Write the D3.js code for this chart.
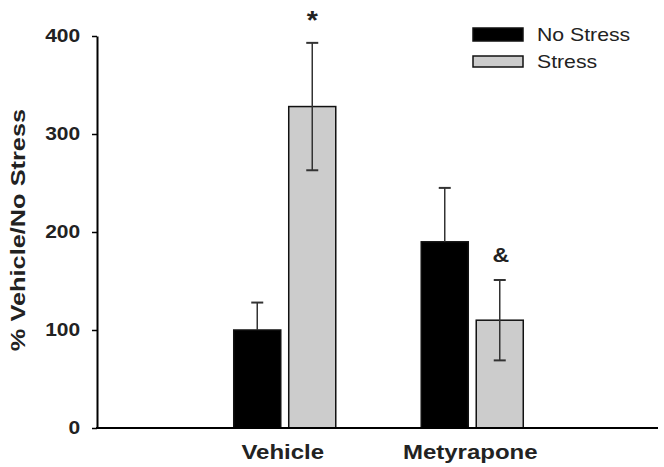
<!DOCTYPE html>
<html>
<head>
<meta charset="utf-8">
<script src="https://cdn.jsdelivr.net/npm/d3@7"></script>
<style>
  body { margin: 0; background: #fff; }
  svg text { font-family: "Liberation Sans", Arial, sans-serif; }
</style>
</head>
<body>
<div id="grafico"></div>
<script>
// datos
var grupos = ["Vehicle", "Metyrapone"];
var series = ["No Stress", "Stress"];
var noStress = [100, 190];
var noStressErr = [28, 55];
var stress = [328, 110];
var stressErr = [65, 41];
var marcas = ["*", "&"];
var yTicks = [0, 100, 200, 300, 400];

var colores = { "No Stress": "#000000", "Stress": "#cccccc" };

var W = 664, H = 467;
var estirar = 1.2; // el texto original sale ensanchado

var svg = d3.select("#grafico").append("svg")
  .attr("width", W)
  .attr("height", H);

// texto ensanchado en horizontal
function texto(x, y, s, ancla, sx) {
  return svg.append("text")
    .attr("transform", "translate(" + x + "," + y + ") scale(" + (sx || estirar) + ",1)")
    .attr("text-anchor", ancla || "start")
    .attr("fill", "#222")
    .text(s);
}

// escalas
var y = d3.scaleLinear().domain([0, 400]).range([428, 36]);

var x0 = d3.scaleBand().domain(grupos).range([191, 566]).padding(0);
var x1 = d3.scaleBand().domain(series).range([0, x0.bandwidth()])
  .paddingInner(0.145).paddingOuter(0.777);

// eje Y
var ejeY = svg.append("g")
  .attr("transform", "translate(97,0)")
  .call(d3.axisLeft(y).tickValues(yTicks).tickSize(5).tickSizeOuter(0));
ejeY.select(".domain").attr("stroke", "#000").attr("stroke-width", 2);
ejeY.selectAll(".tick line").attr("stroke", "#000").attr("stroke-width", 1.5);
ejeY.selectAll(".tick text")
  .attr("x", -14)
  .attr("transform", "scale(" + estirar + ",1)")
  .attr("font-size", "17.5px")
  .attr("font-weight", "bold")
  .attr("fill", "#222")
  .attr("dy", "0.3em");

// título eje Y
svg.append("text")
  .attr("transform", "translate(25,230) rotate(-90) scale(1.3,1)")
  .attr("text-anchor", "middle")
  .attr("font-size", "19.5px")
  .attr("font-weight", "bold")
  .attr("fill", "#222")
  .text("% Vehicle/No Stress");

// datos por barra
var barras = [];
grupos.forEach(function(g, i) {
  barras.push({ grupo: g, serie: "No Stress", valor: noStress[i], err: noStressErr[i], marca: null });
  barras.push({ grupo: g, serie: "Stress", valor: stress[i], err: stressErr[i], marca: marcas[i] });
});

// pintar barras
svg.append("g").selectAll("rect")
  .data(barras)
  .enter().append("rect")
  .attr("x", function(d) { return x0(d.grupo) + x1(d.serie); })
  .attr("y", function(d) { return y(d.valor); })
  .attr("width", x1.bandwidth())
  .attr("height", function(d) { return y(0) - y(d.valor); })
  .attr("fill", function(d) { return colores[d.serie]; })
  .attr("stroke", "#111")
  .attr("stroke-width", 1.5);

// barras de error
var err = svg.append("g").attr("stroke", "#333").attr("stroke-width", 1.5);
barras.forEach(function(d) {
  var cx = x0(d.grupo) + x1(d.serie) + x1.bandwidth() / 2;
  var top = y(d.valor + d.err);
  var bot = d.serie === "Stress" ? y(d.valor - d.err) : y(d.valor);
  err.append("line").attr("x1", cx).attr("x2", cx).attr("y1", top).attr("y2", bot);
  err.append("line").attr("x1", cx - 6).attr("x2", cx + 6).attr("y1", top).attr("y2", top).attr("stroke-width", 2);
  if (d.serie === "Stress") {
    err.append("line").attr("x1", cx - 6).attr("x2", cx + 6).attr("y1", bot).attr("y2", bot).attr("stroke-width", 2);
  }
  if (d.marca) {
    texto(cx + (d.marca === "&" ? 1 : 0), top - (d.marca === "*" ? 14 : 18), d.marca, "middle", 1.1)
      .attr("font-size", d.marca === "*" ? "26px" : "21px")
      .attr("font-weight", "bold");
  }
});

// eje X
svg.append("line")
  .attr("x1", 96).attr("x2", 658)
  .attr("y1", y(0)).attr("y2", y(0))
  .attr("stroke", "#000").attr("stroke-width", 2);

grupos.forEach(function(g) {
  texto(x0(g) + x0.bandwidth() / 2 - 2, 459, g, "middle")
    .attr("font-size", "20px")
    .attr("font-weight", "bold");
});

// leyenda
var lx = 473, ly = 28;
series.forEach(function(s, i) {
  svg.append("rect")
    .attr("x", lx).attr("y", ly + i * 28)
    .attr("width", 50).attr("height", i === 0 ? 13 : 11)
    .attr("fill", colores[s])
    .attr("stroke", "#111").attr("stroke-width", 1.5);
  texto(lx + 64, ly + i * 27 + 13, s, "start", 1.18)
    .attr("font-size", "18px");
});
</script>
</body>
</html>
